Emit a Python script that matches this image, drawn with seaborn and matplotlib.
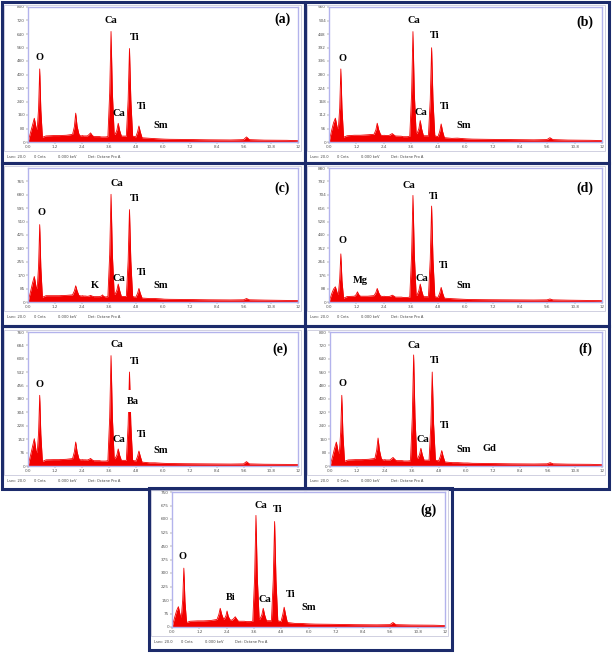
import matplotlib
matplotlib.use("Agg")
import numpy as np
import seaborn as sns
from matplotlib import pyplot as plt
from matplotlib.patches import Rectangle

# ---- data (keV / counts) ----
energy = [
    0.00, 0.12, 0.20, 0.28, 0.36, 0.41, 0.47, 0.52, 0.57, 0.64, 0.80,
    1.12, 1.20, 1.25, 1.30, 1.38, 1.70,
    1.98, 2.06, 2.12, 2.18, 2.26,
    2.30, 2.37, 2.42, 2.47, 2.55,
    2.64, 2.72, 2.78, 2.84, 2.92,
    3.18, 3.26, 3.31, 3.36, 3.44,
    3.55, 3.63, 3.69, 3.75, 3.83,
    3.87, 3.95, 4.01, 4.07, 4.15,
    4.37, 4.45, 4.51, 4.57, 4.65,
    4.79, 4.87, 4.93, 4.99, 5.07,
    5.40, 5.64, 5.90, 6.06, 6.30, 7.00, 8.00, 9.00,
    9.58, 9.71, 9.84, 10.5, 11.5, 12.0,
]

counts_a = [
    0, 60, 100, 141, 85, 75, 200, 433, 190, 28, 36,
    38, 38, 38, 38, 38, 40,
    45, 90, 171, 95, 48,
    38, 36, 38, 36, 36,
    36, 45, 54, 42, 32,
    32, 30, 30, 30, 30,
    32, 290, 655, 290, 45,
    45, 70, 111, 70, 35,
    35, 250, 554, 250, 35,
    30, 60, 95, 60, 25,
    22, 20, 18, 17, 16, 15, 13, 12,
    14, 30, 14, 11, 10, 8,
]
counts_b = [
    0, 50, 80, 99, 60, 55, 140, 303, 140, 20, 26,
    28, 28, 28, 28, 28, 30,
    32, 50, 78, 52, 32,
    28, 27, 28, 27, 27,
    27, 32, 35, 30, 25,
    24, 22, 22, 22, 22,
    24, 200, 458, 200, 35,
    35, 55, 89, 55, 26,
    26, 175, 391, 175, 26,
    22, 45, 75, 45, 18,
    15, 16, 14, 13, 12, 11, 10, 9,
    10, 18, 10, 8, 7, 6,
]
counts_c = [
    0, 70, 120, 162, 95, 85, 230, 491, 220, 30, 40,
    40, 40, 40, 40, 40, 42,
    45, 70, 103, 72, 42,
    40, 38, 40, 38, 38,
    36, 38, 42, 38, 34,
    34, 38, 45, 36, 32,
    34, 300, 683, 300, 50,
    50, 75, 114, 75, 35,
    35, 260, 586, 260, 35,
    30, 55, 86, 55, 25,
    22, 22, 20, 18, 17, 16, 14, 13,
    14, 22, 14, 12, 10, 9,
]
counts_d = [
    0, 55, 85, 100, 60, 50, 150, 316, 140, 25, 36,
    38, 50, 67, 50, 38, 38,
    42, 62, 89, 62, 40,
    38, 36, 38, 36, 36,
    36, 40, 45, 40, 32,
    32, 30, 30, 30, 30,
    32, 310, 700, 310, 45,
    45, 75, 118, 75, 35,
    35, 280, 630, 280, 35,
    30, 60, 96, 60, 25,
    22, 20, 18, 17, 16, 15, 14, 13,
    14, 20, 14, 12, 10, 9,
]
counts_e = [
    0, 65, 110, 155, 85, 75, 190, 401, 180, 25, 35,
    36, 36, 36, 36, 36, 38,
    42, 80, 136, 82, 42,
    36, 35, 36, 35, 35,
    34, 38, 43, 36, 30,
    30, 28, 28, 28, 28,
    30, 275, 626, 275, 42,
    42, 62, 97, 62, 32,
    32, 235, 533, 235, 32,
    28, 55, 85, 55, 22,
    18, 18, 16, 15, 14, 13, 12, 11,
    12, 25, 12, 10, 9, 8,
]
counts_f = [
    0, 60, 105, 143, 85, 75, 200, 422, 190, 28, 36,
    38, 38, 38, 38, 38, 40,
    45, 95, 167, 95, 46,
    38, 36, 38, 36, 36,
    36, 44, 51, 42, 32,
    32, 30, 30, 30, 30,
    32, 290, 663, 290, 45,
    45, 68, 106, 68, 35,
    35, 250, 561, 250, 35,
    30, 58, 92, 58, 24,
    20, 20, 18, 18, 16, 15, 13, 12,
    13, 20, 13, 11, 10, 8,
]
counts_g = [
    0, 55, 90, 113, 65, 55, 150, 327, 140, 25, 32,
    34, 34, 34, 34, 34, 36,
    42, 70, 104, 72, 45,
    45, 62, 89, 60, 40,
    38, 48, 57, 45, 32,
    32, 30, 30, 30, 30,
    32, 270, 620, 270, 45,
    45, 68, 104, 68, 35,
    35, 260, 586, 260, 35,
    30, 70, 110, 70, 25,
    20, 20, 18, 17, 16, 15, 13, 12,
    13, 25, 13, 11, 10, 8,
]

panel_names = ["a", "b", "c", "d", "e", "f", "g"]
spectra = [counts_a, counts_b, counts_c, counts_d, counts_e, counts_f, counts_g]
y_max = [800, 560, 850, 880, 760, 800, 750]
y_step = [80, 56, 85, 88, 76, 80, 75]
y_tick_top = [800, 560, 765, 880, 760, 800, 750]
x_ticks = [0.0, 1.2, 2.4, 3.6, 4.8, 6.0, 7.2, 8.4, 9.6, 10.8, 12.0]
x_tick_labels = ["0.0", "1.2", "2.4", "3.6", "4.8", "6.0", "7.2", "8.4", "9.6", "10.8", "12"]

# element labels: (text, keV, counts)
peak_labels = {
    "a": [("Ca", 3.70, 720), ("Ti", 4.74, 619), ("O", 0.52, 498), ("Ca", 4.06, 171),
          ("Ti", 5.07, 212), ("Sm", 5.88, 97)],
    "b": [("Ca", 3.73, 504), ("Ti", 4.63, 440), ("O", 0.59, 348), ("Ca", 4.04, 124),
          ("Ti", 5.07, 148), ("Sm", 5.90, 68)],
    "c": [("Ca", 3.93, 754), ("Ti", 4.74, 657), ("O", 0.58, 567), ("K", 2.96, 103),
          ("Ca", 4.06, 151), ("Ti", 5.07, 187), ("Sm", 5.88, 103)],
    "d": [("Ca", 3.51, 764), ("Ti", 4.61, 695), ("O", 0.59, 405), ("Mg", 1.40, 140),
          ("Ca", 4.10, 156), ("Ti", 5.02, 240), ("Sm", 5.90, 107)],
    "e": [("Ca", 3.93, 688), ("Ti", 4.74, 595), ("O", 0.52, 465), ("Ca", 4.06, 151),
          ("Ti", 5.07, 178), ("Sm", 5.88, 87)],
    "f": [("Ca", 3.71, 722), ("Ti", 4.61, 627), ("O", 0.56, 490), ("Ca", 4.08, 157),
          ("Ti", 5.08, 239), ("Sm", 5.89, 98), ("Gd", 7.02, 102)],
    "g": [("Ca", 3.89, 677), ("Ti", 4.66, 652), ("O", 0.48, 391), ("Bi", 2.57, 166),
          ("Ca", 4.09, 151), ("Ti", 5.21, 183), ("Sm", 6.01, 110)],
}
panel_tag_pos = {"a": (11.29, 726), "b": (11.26, 498), "c": (11.29, 722), "d": (11.23, 746),
                 "e": (11.21, 663), "f": (11.27, 698), "g": (11.26, 647)}

# ---- layout in pixels: (border box, axes box) as x0, y0, x1, y1 ----
W, H = 614, 661
layout = {
    "a": ((2, 2, 305, 163), (28, 7, 298, 142)),
    "b": ((305, 2, 609, 163), (329, 7, 602, 142)),
    "c": ((2, 163, 305, 326), (28, 168, 298, 302)),
    "d": ((305, 163, 609, 326), (329, 168, 602, 302)),
    "e": ((2, 326, 305, 489), (28, 332, 298, 466)),
    "f": ((305, 326, 609, 489), (330, 332, 602, 466)),
    "g": ((149, 488, 452, 650), (172, 492, 445, 627)),
}

sns.set_theme(style="white")
plt.rcParams["font.family"] = ["DejaVu Sans"]

fig = plt.figure(figsize=(W / 100, H / 100), dpi=100)
fig.patch.set_facecolor("white")


def fig_rect(x0, y0, x1, y1):
    return [x0 / W, 1 - y1 / H, (x1 - x0) / W, (y1 - y0) / H]


navy = "#1c2b6b"
red = "#f20000"
serif = ["Liberation Serif", "DejaVu Serif"]

for name, counts, top, step, tick_top in zip(panel_names, spectra, y_max, y_step, y_tick_top):
    border, box = layout[name]
    ax = fig.add_axes(fig_rect(*box))

    sns.lineplot(x=energy, y=counts, ax=ax, color=red, linewidth=0.6,
                 estimator=None, sort=False)
    ax.fill_between(energy, counts, color=red, linewidth=0)

    ax.set_xlim(0, 12)
    ax.set_ylim(0, top)
    ax.set_xticks(x_ticks)
    ax.set_xticklabels(x_tick_labels)
    yt = np.arange(0, tick_top + 1, step)
    ax.set_yticks(yt)
    ax.set_yticklabels([str(int(v)) for v in yt])
    ax.tick_params(bottom=True, left=True, length=1.2, width=0.3, pad=1,
                   labelsize=3, colors="#555555")
    for sp in ax.spines.values():
        sp.set_color("#b3b3ec")
        sp.set_linewidth(1.0)
    ax.set_xlabel("")
    ax.set_ylabel("")

    for txt, ex, cy in peak_labels[name]:
        ax.text(ex, cy, txt, ha="center", va="center", fontsize=7.5,
                fontweight="bold", family=serif, color="black")
    if name == "e":
        ax.text(4.67, 368, "Ba", ha="center", va="center", fontsize=7.5,
                fontweight="bold", family=serif, color="black",
                bbox=dict(facecolor="white", edgecolor="none", pad=4.5))
    tx, ty = panel_tag_pos[name]
    ax.text(tx, ty, "(%s)" % name, ha="center", va="center", fontsize=10,
            fontweight="bold", family=serif, color="black")

    # light frame round the plot and tick labels
    bx0, by0, bx1, by1 = border
    ax0, ay0, ax1, ay1 = box
    light = fig_rect(bx0 + 2, ay0 - 2, ax1 + 3, ay1 + 9)
    fig.add_artist(Rectangle((light[0], light[1]), light[2], light[3],
                             transform=fig.transFigure, fill=False,
                             edgecolor="#c9c9dc", linewidth=0.6))

    # status bar text
    info_y = 1 - (ay1 + 15) / H
    for dx, s in [(5, "Lsec: 20.0"), (32, "0 Cnts"), (56, "0.000 keV"), (86, "Det: Octane Pro A")]:
        fig.text((bx0 + dx) / W, info_y, s, fontsize=2.6, color="#444444",
                 ha="left", va="center")

    # navy panel border
    nb = fig_rect(*border)
    fig.add_artist(Rectangle((nb[0], nb[1]), nb[2], nb[3],
                             transform=fig.transFigure, fill=False,
                             edgecolor=navy, linewidth=2.2))

fig.savefig("out.png", dpi=100, facecolor="white")
